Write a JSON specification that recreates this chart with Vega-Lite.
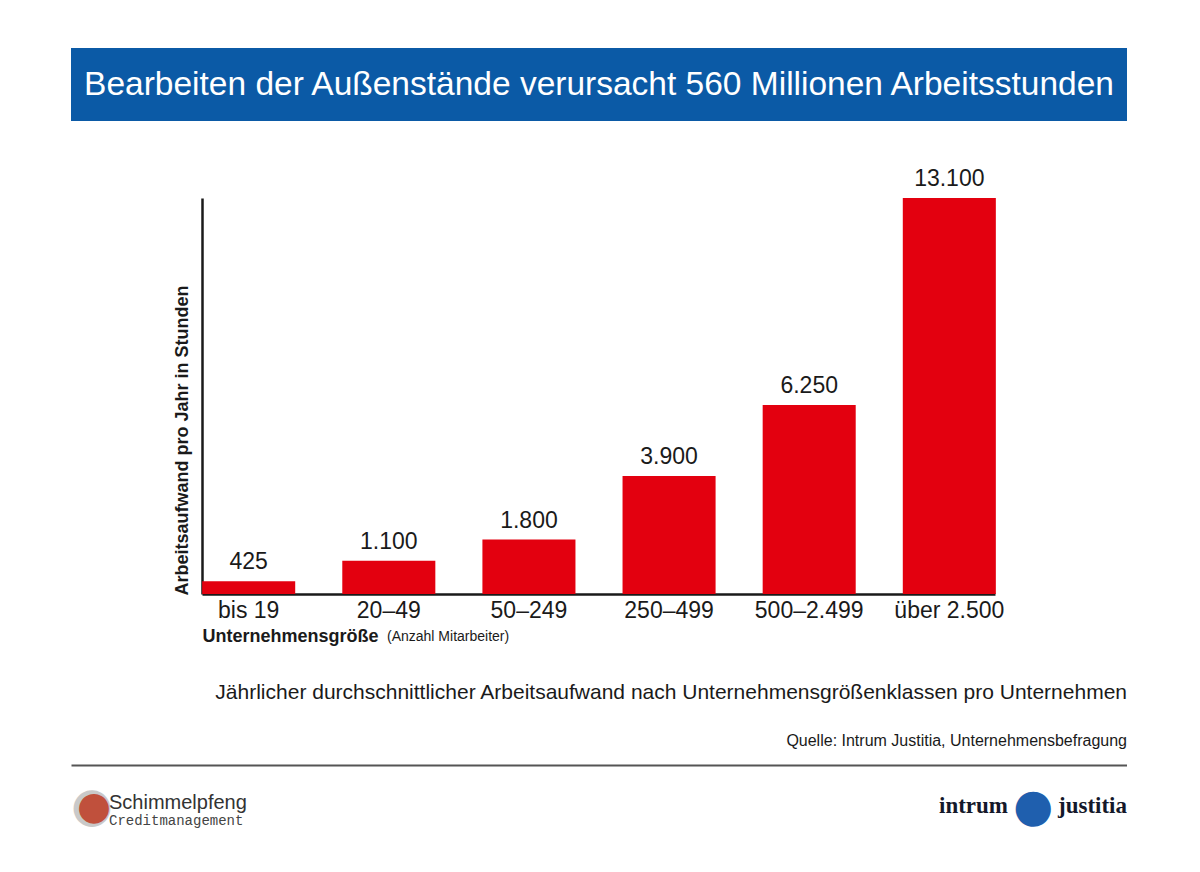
{
  "$schema": "https://vega.github.io/schema/vega-lite/v6.json",
  "background": "white",
  "padding": {"left": 71, "top": 48, "right": 0, "bottom": 0},
  "config": {
    "font": "Liberation Sans",
    "view": {"stroke": null},
    "locale": {"number": {"decimal": ",", "thousands": ".", "grouping": [3], "currency": ["", " €"]}}
  },
  "datasets": {
    "kopf": [{"titel": "Bearbeiten der Außenstände verursacht 560 Millionen Arbeitsstunden"}],
    "balken": [
      {"klasse": "bis 19", "stunden": 425},
      {"klasse": "20–49", "stunden": 1100},
      {"klasse": "50–249", "stunden": 1800},
      {"klasse": "250–499", "stunden": 3900},
      {"klasse": "500–2.499", "stunden": 6250},
      {"klasse": "über 2.500", "stunden": 13100}
    ],
    "logos": [
      {"seite": "links", "name": "Schimmelpfeng", "zusatz": "Creditmanagement"},
      {"seite": "rechts", "name": "intrum", "zusatz": "justitia"}
    ]
  },
  "spacing": 47,
  "vconcat": [
    {
      "width": 1056,
      "height": 73,
      "data": {"name": "kopf"},
      "layer": [
        {"mark": {"type": "rect", "color": "#0b5aa6"}, "encoding": {}},
        {
          "mark": {"type": "text", "color": "white", "fontSize": 33.5, "align": "center", "baseline": "middle"},
          "encoding": {"text": {"field": "titel"}}
        }
      ]
    },
    {
      "spacing": 37,
      "vconcat": [
        {
          "width": 1056,
          "height": 396,
          "data": {"name": "balken"},
          "title": {
            "text": "(Anzahl Mitarbeiter)",
            "orient": "bottom",
            "anchor": "start",
            "frame": "group",
            "fontSize": 14,
            "fontWeight": "normal",
            "color": "#1a1a1a",
            "dx": 316,
            "offset": -4,
            "baseline": "alphabetic"
          },
          "encoding": {
            "x": {
              "field": "klasse",
              "type": "nominal",
              "sort": null,
              "scale": {"paddingInner": 0.336, "paddingOuter": 0.936},
              "axis": {
                "orient": "bottom",
                "title": "Unternehmensgröße",
                "titleFontSize": 18,
                "titleFontWeight": "bold",
                "titleColor": "#1a1a1a",
                "titleX": 131,
                "titleAlign": "left",
                "titlePadding": 5,
                "labelFontSize": 23,
                "labelColor": "#1a1a1a",
                "labelAngle": 0,
                "labelPadding": 5,
                "ticks": false,
                "domain": true,
                "domainColor": "#1a1a1a",
                "domainWidth": 2.5,
                "domainDash": [0, 131, 793, 200]
              }
            },
            "y": {
              "field": "stunden",
              "type": "quantitative",
              "scale": {"domain": [0, 13100], "nice": false},
              "axis": {
                "orient": "left",
                "offset": -131,
                "title": "Arbeitsaufwand pro Jahr in Stunden",
                "titleFontSize": 18,
                "titleFontWeight": "bold",
                "titleColor": "#1a1a1a",
                "titleAngle": -90,
                "titleX": -15,
                "titleY": 397,
                "titleAlign": "left",
                "titleBaseline": "alphabetic",
                "labels": false,
                "ticks": false,
                "grid": false,
                "minExtent": 0,
                "domainColor": "#1a1a1a",
                "domainWidth": 2.5
              }
            }
          },
          "layer": [
            {"mark": {"type": "bar", "color": "#e3000f"}},
            {
              "mark": {"type": "text", "fontSize": 23, "dy": -12, "baseline": "alphabetic", "color": "#1a1a1a"},
              "encoding": {"text": {"field": "stunden", "type": "quantitative", "format": ",d"}}
            }
          ]
        },
        {
          "width": 1056,
          "height": 70,
          "data": {"name": "logos"},
          "title": {
            "text": "Jährlicher durchschnittlicher Arbeitsaufwand nach Unternehmensgrößenklassen pro Unternehmen",
            "subtitle": "Quelle: Intrum Justitia, Unternehmensbefragung",
            "orient": "top",
            "anchor": "end",
            "fontSize": 21,
            "fontWeight": "normal",
            "color": "#1a1a1a",
            "subtitleFontSize": 16,
            "subtitleColor": "#1a1a1a",
            "subtitlePadding": 30,
            "offset": 16
          },
          "encoding": {
            "x": {
              "field": "seite",
              "type": "nominal",
              "scale": {"type": "point", "padding": 0},
              "axis": {"orient": "top", "labels": false, "ticks": false, "title": null, "domainColor": "#555555", "domainWidth": 2}
            }
          },
          "layer": [
            {
              "transform": [{"filter": "datum.seite == 'links'"}],
              "mark": {"type": "text", "text": "●", "font": "DejaVu Sans", "fontSize": 48, "color": "#c9c9c9", "align": "left", "baseline": "middle", "dx": 0, "dy": 7}
            },
            {
              "transform": [{"filter": "datum.seite == 'links'"}],
              "mark": {"type": "text", "text": "●", "font": "DejaVu Sans", "fontSize": 39, "color": "#c0503c", "align": "left", "baseline": "middle", "dx": 6, "dy": 7}
            },
            {
              "transform": [{"filter": "datum.seite == 'links'"}],
              "mark": {"type": "text", "align": "left", "baseline": "alphabetic", "dx": 38, "dy": 9, "fontSize": 20, "color": "#333333"},
              "encoding": {"text": {"field": "name"}}
            },
            {
              "transform": [{"filter": "datum.seite == 'links'"}],
              "mark": {"type": "text", "align": "left", "baseline": "alphabetic", "dx": 38, "dy": 25, "fontSize": 14, "font": "Liberation Mono", "color": "#444444"},
              "encoding": {"text": {"field": "zusatz"}}
            },
            {
              "transform": [{"filter": "datum.seite == 'rechts'"}],
              "mark": {"type": "text", "align": "right", "baseline": "alphabetic", "dy": 13, "fontSize": 23, "font": "Liberation Serif", "fontWeight": "bold", "color": "#14182a"},
              "encoding": {"text": {"field": "zusatz"}}
            },
            {
              "transform": [{"filter": "datum.seite == 'rechts'"}],
              "mark": {"type": "text", "align": "right", "baseline": "alphabetic", "dx": -119, "dy": 13, "fontSize": 23, "font": "Liberation Serif", "fontWeight": "bold", "color": "#14182a"},
              "encoding": {"text": {"field": "name"}}
            },
            {
              "transform": [{"filter": "datum.seite == 'rechts'"}],
              "mark": {"type": "text", "text": "●", "font": "DejaVu Sans", "fontSize": 46, "color": "#1f5fae", "align": "center", "baseline": "middle", "dx": -94, "dy": 7}
            }
          ]
        }
      ]
    }
  ]
}
